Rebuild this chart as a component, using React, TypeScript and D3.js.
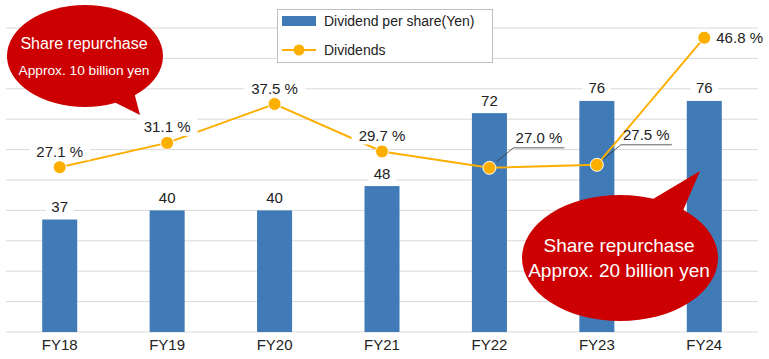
import React from "react";
import * as d3 from "d3";

const categories = ["FY18", "FY19", "FY20", "FY21", "FY22", "FY23", "FY24"];
const dividendPerShare = [37, 40, 40, 48, 72, 76, 76];
const payoutRatio = [27.1, 31.1, 37.5, 29.7, 27.0, 27.5, 48.4];
const payoutLabels = ["27.1 %", "31.1 %", "37.5 %", "29.7 %", "27.0 %", "27.5 %", "46.8 %"];
const leftTicks = [0, 10, 20, 30, 40, 50, 60, 70, 80, 90, 100];

const W = 769;
const H = 359;
const FONT = "'Liberation Sans', Arial, sans-serif";
const BAR = "#407BB8";
const LINE = "#FDAF00";
const RED = "#CC0000";

export default function App() {
  const x = d3.scaleBand<string>().domain(categories).range([6, 758]).padding(0);
  const yL = d3.scaleLinear().domain([0, 100]).range([332, 28]);
  const yR = d3.scaleLinear().domain([0, 50]).range([332, 28]);
  const cx = (c: string) => (x(c) as number) + x.bandwidth() / 2;
  const bw = x.bandwidth() * 0.326;

  const lineGen = d3
    .line<number>()
    .x((_, i) => cx(categories[i]))
    .y((d) => yR(d));

  const textW = (s: string, fs: number) => s.length * fs * 0.52;

  return (
    <svg
      width={W}
      height={H}
      style={{ position: "absolute", left: 0, top: 0, background: "#fff" }}
      fontFamily={FONT}
    >
      {/* gridlines */}
      {leftTicks.map((t) => (
        <line key={t} x1={6} x2={758} y1={yL(t)} y2={yL(t)} stroke="#d9d9d9" strokeWidth={1} />
      ))}
      {/* bars */}
      {dividendPerShare.map((v, i) => (
        <rect
          key={i}
          x={cx(categories[i]) - bw / 2}
          y={yL(v)}
          width={bw}
          height={yL(0) - yL(v)}
          fill={BAR}
        />
      ))}
      {/* bar labels */}
      {dividendPerShare.map((v, i) => {
        const s = String(v);
        const w = textW(s, 15) + 12;
        const yc = yL(v) - 13;
        return (
          <g key={i}>
            <rect x={cx(categories[i]) - w / 2} y={yc - 9} width={w} height={18} fill="#fff" />
            <text x={cx(categories[i])} y={yc + 5.5} textAnchor="middle" fontSize={15} fill="#222">
              {s}
            </text>
          </g>
        );
      })}
      {/* line */}
      <path d={lineGen(payoutRatio) || ""} fill="none" stroke={LINE} strokeWidth={2} />
      {payoutRatio.map((v, i) => (
        <circle key={i} cx={cx(categories[i])} cy={yR(v)} r={6.5} fill={LINE} stroke="#fff" strokeWidth={1} />
      ))}
      {/* line labels */}
      {payoutRatio.map((v, i) => {
        const s = payoutLabels[i];
        const px = cx(categories[i]);
        const py = yR(v);
        if (i === 4 || i === 5) {
          const lx = px + 24;
          const ly = py - 20;
          return (
            <g key={i}>
              <line x1={px + 7} y1={py - 6} x2={lx} y2={ly} stroke="#333" strokeWidth={0.8} />
              <line x1={lx} y1={ly} x2={lx + 51} y2={ly} stroke="#333" strokeWidth={0.8} />
              <text x={lx + 25.5} y={ly - 5} textAnchor="middle" fontSize={15} fill="#222">
                {s}
              </text>
            </g>
          );
        }
        if (i === 6) {
          return (
            <text key={i} x={px + 12} y={py + 5.5} fontSize={15} fill="#222">
              {s}
            </text>
          );
        }
        const yc = py - 16;
        const w = textW(s, 15) + 14;
        return (
          <g key={i}>
            <rect x={px - w / 2} y={yc - 9} width={w} height={18} fill="#fff" />
            <text x={px} y={yc + 5.5} textAnchor="middle" fontSize={15} fill="#222">
              {s}
            </text>
          </g>
        );
      })}
      {/* x axis labels */}
      {categories.map((c) => (
        <text key={c} x={cx(c)} y={349.5} textAnchor="middle" fontSize={15} fill="#222">
          {c}
        </text>
      ))}
      {/* legend */}
      <rect x={277.5} y={9.5} width={215} height={53} fill="#fff" stroke="#bfbfbf" strokeWidth={1} />
      <rect x={282} y={16} width={34} height={10} fill={BAR} />
      <text x={324} y={26} fontSize={14} fill="#222">
        Dividend per share(Yen)
      </text>
      <line x1={282} x2={316} y1={50} y2={50} stroke={LINE} strokeWidth={2} />
      <circle cx={299} cy={50} r={5.5} fill={LINE} />
      <text x={324} y={55} fontSize={14} fill="#222">
        Dividends
      </text>
      {/* left bubble */}
      <ellipse cx={85} cy={56} rx={78} ry={51} fill={RED} />
      <path d="M110 100 L140 115 L134 92 Z" fill={RED} />
      <text x={84} y={49} textAnchor="middle" fontSize={16} fill="#fff">
        Share repurchase
      </text>
      <text x={84} y={75} textAnchor="middle" fontSize={13.7} fill="#fff">
        Approx. 10 billion yen
      </text>
      {/* right bubble */}
      <ellipse cx={620} cy={258} rx={98} ry={63} fill={RED} />
      <path d="M648 202 L700 171 L682 213 Z" fill={RED} />
      <text x={619} y={252} textAnchor="middle" fontSize={19} fill="#fff">
        Share repurchase
      </text>
      <text x={619} y={277} textAnchor="middle" fontSize={19} fill="#fff">
        Approx. 20 billion yen
      </text>
    </svg>
  );
}
